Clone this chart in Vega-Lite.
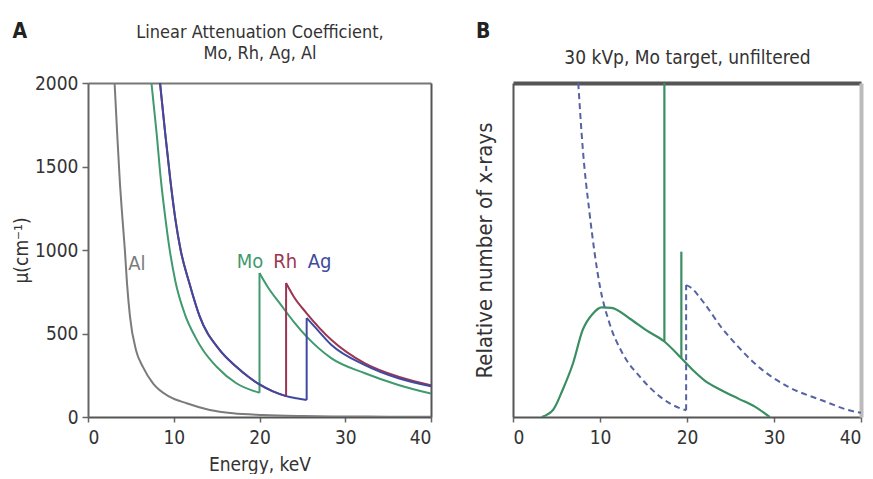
{
  "$schema": "https://vega.github.io/schema/vega-lite/v6.json",
  "background": "white",
  "padding": {"left": 12, "top": 21, "right": 4, "bottom": 0},
  "bounds": "flush",
  "spacing": 82,
  "datasets": {
    "atten": [
      {"el": "Al", "seg": "Al", "E": 3.1, "mu": 2000},
      {"el": "Al", "seg": "Al", "E": 3.4, "mu": 1700},
      {"el": "Al", "seg": "Al", "E": 3.7, "mu": 1420},
      {"el": "Al", "seg": "Al", "E": 4.0, "mu": 1200},
      {"el": "Al", "seg": "Al", "E": 4.3, "mu": 1000},
      {"el": "Al", "seg": "Al", "E": 4.55, "mu": 800},
      {"el": "Al", "seg": "Al", "E": 4.9, "mu": 600},
      {"el": "Al", "seg": "Al", "E": 5.6, "mu": 400},
      {"el": "Al", "seg": "Al", "E": 6.4, "mu": 300},
      {"el": "Al", "seg": "Al", "E": 7.6, "mu": 200},
      {"el": "Al", "seg": "Al", "E": 9.5, "mu": 122},
      {"el": "Al", "seg": "Al", "E": 11.5, "mu": 82},
      {"el": "Al", "seg": "Al", "E": 14.2, "mu": 42},
      {"el": "Al", "seg": "Al", "E": 16.9, "mu": 22},
      {"el": "Al", "seg": "Al", "E": 20.4, "mu": 12},
      {"el": "Al", "seg": "Al", "E": 25, "mu": 6},
      {"el": "Al", "seg": "Al", "E": 30, "mu": 3},
      {"el": "Al", "seg": "Al", "E": 35, "mu": 2},
      {"el": "Al", "seg": "Al", "E": 40, "mu": 1.5},

      {"el": "Mo", "seg": "Mo1", "E": 7.4, "mu": 2000},
      {"el": "Mo", "seg": "Mo1", "E": 8.0, "mu": 1700},
      {"el": "Mo", "seg": "Mo1", "E": 8.5, "mu": 1420},
      {"el": "Mo", "seg": "Mo1", "E": 9.0, "mu": 1200},
      {"el": "Mo", "seg": "Mo1", "E": 9.5, "mu": 1010},
      {"el": "Mo", "seg": "Mo1", "E": 10.2, "mu": 810},
      {"el": "Mo", "seg": "Mo1", "E": 11.3, "mu": 615},
      {"el": "Mo", "seg": "Mo1", "E": 12.5, "mu": 480},
      {"el": "Mo", "seg": "Mo1", "E": 13.4, "mu": 401},
      {"el": "Mo", "seg": "Mo1", "E": 15.0, "mu": 301},
      {"el": "Mo", "seg": "Mo1", "E": 17.3, "mu": 202},
      {"el": "Mo", "seg": "Mo1", "E": 20.0, "mu": 145},
      {"el": "Mo", "seg": "Mo2", "E": 20.0, "mu": 145},
      {"el": "Mo", "seg": "Mo2", "E": 20.0, "mu": 862},
      {"el": "Mo", "seg": "Mo3", "E": 20.0, "mu": 862},
      {"el": "Mo", "seg": "Mo3", "E": 21.0, "mu": 775},
      {"el": "Mo", "seg": "Mo3", "E": 22.5, "mu": 671},
      {"el": "Mo", "seg": "Mo3", "E": 24.0, "mu": 570},
      {"el": "Mo", "seg": "Mo3", "E": 25.5, "mu": 481},
      {"el": "Mo", "seg": "Mo3", "E": 28.4, "mu": 351},
      {"el": "Mo", "seg": "Mo3", "E": 32.3, "mu": 262},
      {"el": "Mo", "seg": "Mo3", "E": 36.2, "mu": 192},
      {"el": "Mo", "seg": "Mo3", "E": 40.0, "mu": 140},

      {"el": "Rh", "seg": "Rh1", "E": 8.4, "mu": 2000},
      {"el": "Rh", "seg": "Rh1", "E": 9.0, "mu": 1700},
      {"el": "Rh", "seg": "Rh1", "E": 9.6, "mu": 1420},
      {"el": "Rh", "seg": "Rh1", "E": 10.2, "mu": 1180},
      {"el": "Rh", "seg": "Rh1", "E": 10.8, "mu": 1000},
      {"el": "Rh", "seg": "Rh1", "E": 11.8, "mu": 805},
      {"el": "Rh", "seg": "Rh1", "E": 13.0, "mu": 605},
      {"el": "Rh", "seg": "Rh1", "E": 15.3, "mu": 405},
      {"el": "Rh", "seg": "Rh1", "E": 17.3, "mu": 301},
      {"el": "Rh", "seg": "Rh1", "E": 18.7, "mu": 241},
      {"el": "Rh", "seg": "Rh1", "E": 20.0, "mu": 195},
      {"el": "Rh", "seg": "Rh1", "E": 21.5, "mu": 155},
      {"el": "Rh", "seg": "Rh1", "E": 23.1, "mu": 125},
      {"el": "Rh", "seg": "Rh2", "E": 23.1, "mu": 125},
      {"el": "Rh", "seg": "Rh2", "E": 23.1, "mu": 802},
      {"el": "Rh", "seg": "Rh3", "E": 23.1, "mu": 802},
      {"el": "Rh", "seg": "Rh3", "E": 24.0, "mu": 720},
      {"el": "Rh", "seg": "Rh3", "E": 25.5, "mu": 621},
      {"el": "Rh", "seg": "Rh3", "E": 28.4, "mu": 461},
      {"el": "Rh", "seg": "Rh3", "E": 32.3, "mu": 321},
      {"el": "Rh", "seg": "Rh3", "E": 36.2, "mu": 241},
      {"el": "Rh", "seg": "Rh3", "E": 40.0, "mu": 190},

      {"el": "Ag", "seg": "Ag1", "E": 8.4, "mu": 2000},
      {"el": "Ag", "seg": "Ag1", "E": 9.0, "mu": 1700},
      {"el": "Ag", "seg": "Ag1", "E": 9.6, "mu": 1420},
      {"el": "Ag", "seg": "Ag1", "E": 10.2, "mu": 1180},
      {"el": "Ag", "seg": "Ag1", "E": 10.8, "mu": 1000},
      {"el": "Ag", "seg": "Ag1", "E": 11.8, "mu": 805},
      {"el": "Ag", "seg": "Ag1", "E": 13.0, "mu": 605},
      {"el": "Ag", "seg": "Ag1", "E": 15.3, "mu": 405},
      {"el": "Ag", "seg": "Ag1", "E": 17.3, "mu": 301},
      {"el": "Ag", "seg": "Ag1", "E": 18.7, "mu": 241},
      {"el": "Ag", "seg": "Ag1", "E": 20.0, "mu": 195},
      {"el": "Ag", "seg": "Ag1", "E": 21.5, "mu": 155},
      {"el": "Ag", "seg": "Ag1", "E": 23.1, "mu": 125},
      {"el": "Ag", "seg": "Ag1", "E": 24.3, "mu": 112},
      {"el": "Ag", "seg": "Ag1", "E": 25.5, "mu": 102},
      {"el": "Ag", "seg": "Ag2", "E": 25.5, "mu": 102},
      {"el": "Ag", "seg": "Ag2", "E": 25.5, "mu": 593},
      {"el": "Ag", "seg": "Ag3", "E": 25.5, "mu": 593},
      {"el": "Ag", "seg": "Ag3", "E": 26.5, "mu": 537},
      {"el": "Ag", "seg": "Ag3", "E": 28.4, "mu": 431},
      {"el": "Ag", "seg": "Ag3", "E": 32.3, "mu": 311},
      {"el": "Ag", "seg": "Ag3", "E": 36.2, "mu": 232},
      {"el": "Ag", "seg": "Ag3", "E": 40.0, "mu": 184}
    ],
    "labels": [
      {"el": "Al", "E": 5.7, "mu": 916},
      {"el": "Mo", "E": 18.9, "mu": 930},
      {"el": "Rh", "E": 23.0, "mu": 930},
      {"el": "Ag", "E": 27.0, "mu": 930}
    ],
    "spectrum": [
      {"s": "S1", "E": 3.3, "n": 0},
      {"s": "S1", "E": 4.6, "n": 2.1},
      {"s": "S1", "E": 5.7, "n": 8.1},
      {"s": "S1", "E": 6.9, "n": 16.1},
      {"s": "S1", "E": 8.0, "n": 26},
      {"s": "S1", "E": 9.2, "n": 31},
      {"s": "S1", "E": 10.2, "n": 32.8},
      {"s": "S1", "E": 11.3, "n": 32.7},
      {"s": "S1", "E": 13.4, "n": 29.5},
      {"s": "S1", "E": 15.3, "n": 26},
      {"s": "S1", "E": 17.4, "n": 22.6},
      {"s": "S1", "E": 19.35, "n": 17.6},
      {"s": "S1", "E": 20.7, "n": 14},
      {"s": "S1", "E": 22.0, "n": 11},
      {"s": "S1", "E": 23.9, "n": 8.1},
      {"s": "S1", "E": 25.9, "n": 5.5},
      {"s": "S1", "E": 27.8, "n": 3.1},
      {"s": "S1", "E": 29.5, "n": 0},
      {"s": "K1", "E": 17.4, "n": 22.6},
      {"s": "K1", "E": 17.4, "n": 100},
      {"s": "K2", "E": 19.35, "n": 17.6},
      {"s": "K2", "E": 19.35, "n": 49.5}
    ],
    "dashed": [
      {"s": "D1", "E": 7.5, "n": 100},
      {"s": "D1", "E": 8.0, "n": 81},
      {"s": "D1", "E": 8.8, "n": 61},
      {"s": "D1", "E": 10.0, "n": 39},
      {"s": "D1", "E": 11.1, "n": 28},
      {"s": "D1", "E": 12.6, "n": 19},
      {"s": "D1", "E": 14.6, "n": 12},
      {"s": "D1", "E": 16.9, "n": 6.1},
      {"s": "D1", "E": 19.2, "n": 2.6},
      {"s": "D1", "E": 19.9, "n": 2.0},
      {"s": "D2", "E": 19.9, "n": 2.0},
      {"s": "D2", "E": 19.9, "n": 39.5},
      {"s": "D3", "E": 19.9, "n": 39.5},
      {"s": "D3", "E": 20.3, "n": 39},
      {"s": "D3", "E": 22.0, "n": 34},
      {"s": "D3", "E": 23.9, "n": 27},
      {"s": "D3", "E": 25.9, "n": 21},
      {"s": "D3", "E": 27.8, "n": 16},
      {"s": "D3", "E": 31.6, "n": 9.1},
      {"s": "D3", "E": 35.4, "n": 5.1},
      {"s": "D3", "E": 39.3, "n": 1.6},
      {"s": "D3", "E": 40.0, "n": 1.3}
    ]
  },
  "hconcat": [
    {
      "width": 343,
      "height": 334,
      "title": {"text": "A", "anchor": "start", "frame": "bounds", "fontSize": 21, "fontWeight": "bold", "color": "#222", "offset": -19, "dx": 0},
      "resolve": {"axis": {"x": "independent", "y": "independent"}},
      "layer": [
        {
          "data": {"name": "atten"},
          "transform": [{"filter": "datum.el != 'Ag'"}],
          "mark": {"type": "line", "interpolate": "monotone", "strokeWidth": 2, "clip": true},
          "encoding": {
            "x": {"field": "E", "type": "quantitative", "scale": {"domain": [0, 40], "nice": false},
              "axis": {"orient": "bottom", "title": "Energy, keV", "values": [0, 10, 20, 30, 40], "tickSize": 5, "labelPadding": 6, "titlePadding": 8, "domainColor": "#555"}},
            "y": {"field": "mu", "type": "quantitative", "scale": {"domain": [0, 2000], "nice": false},
              "axis": {"orient": "left", "title": "μ(cm⁻¹)", "format": "d", "values": [0, 500, 1000, 1500, 2000], "tickSize": 6, "labelPadding": 4, "titlePadding": 3, "domainColor": "#666"}},
            "color": {"field": "el", "type": "nominal", "scale": {"domain": ["Al", "Mo", "Rh", "Ag"], "range": ["#7b7b7b", "#3f9a6e", "#9c3552", "#3d4aa0"]}, "legend": null},
            "detail": {"field": "seg"}
          }
        },
        {
          "data": {"name": "atten"},
          "transform": [{"filter": "datum.el == 'Ag'"}],
          "mark": {"type": "line", "interpolate": "monotone", "strokeWidth": 2, "clip": true},
          "encoding": {
            "x": {"field": "E", "type": "quantitative",
              "axis": {"orient": "top", "title": ["Linear Attenuation Coefficient,", "Mo, Rh, Ag, Al"], "labels": false, "ticks": false, "titlePadding": 21, "domainColor": "#777", "titleFontSize": 18, "titleLineHeight": 21}},
            "y": {"field": "mu", "type": "quantitative",
              "axis": {"orient": "right", "title": null, "labels": false, "ticks": false, "domainColor": "#555"}},
            "color": {"field": "el", "type": "nominal", "legend": null},
            "detail": {"field": "seg"}
          }
        },
        {
          "data": {"name": "labels"},
          "mark": {"type": "text", "fontSize": 20},
          "encoding": {
            "x": {"field": "E", "type": "quantitative", "axis": null},
            "y": {"field": "mu", "type": "quantitative", "axis": null},
            "text": {"field": "el"},
            "color": {"field": "el", "type": "nominal", "legend": null}
          }
        }
      ]
    },
    {
      "width": 348,
      "height": 334,
      "title": {"text": "B", "anchor": "start", "frame": "bounds", "fontSize": 21, "fontWeight": "bold", "color": "#222", "offset": 6, "dx": 3},
      "resolve": {"axis": {"x": "independent", "y": "independent"}},
      "layer": [
        {
          "data": {"name": "spectrum"},
          "mark": {"type": "line", "interpolate": "monotone", "strokeWidth": 2.2, "color": "#3a8f62", "clip": true},
          "encoding": {
            "x": {"field": "E", "type": "quantitative", "scale": {"domain": [0, 40], "nice": false},
              "axis": {"orient": "bottom", "title": null, "values": [0, 10, 20, 30, 40], "tickSize": 5, "labelPadding": 6, "domainColor": "#555"}},
            "y": {"field": "n", "type": "quantitative", "scale": {"domain": [0, 100], "nice": false},
              "axis": {"orient": "left", "title": "Relative number of x-rays", "labels": false, "ticks": false, "titlePadding": 17, "titleFontSize": 22, "domainColor": "#555"}},
            "detail": {"field": "s"}
          }
        },
        {
          "data": {"name": "dashed"},
          "mark": {"type": "line", "interpolate": "monotone", "strokeWidth": 2, "color": "#5563a3", "strokeDash": [6, 4], "clip": true},
          "encoding": {
            "x": {"field": "E", "type": "quantitative",
              "axis": {"orient": "top", "title": "30 kVp, Mo target, unfiltered", "labels": false, "ticks": false, "titlePadding": 16, "domainColor": "#555", "domainWidth": 4, "titleFontSize": 19}},
            "y": {"field": "n", "type": "quantitative",
              "axis": {"orient": "right", "title": null, "labels": false, "ticks": false, "domainColor": "#bbbbbb", "domainWidth": 4}},
            "detail": {"field": "s"}
          }
        }
      ]
    }
  ],
  "config": {
    "font": "DejaVu Sans Condensed, Liberation Sans, sans-serif",
    "view": {"stroke": null},
    "axis": {"labelFontSize": 19, "labelColor": "#333", "titleFontSize": 19, "titleColor": "#333", "titleFontWeight": "normal", "grid": false, "domainWidth": 2, "tickColor": "#666", "tickWidth": 1.5},
    "title": {"color": "#222"}
  }
}
